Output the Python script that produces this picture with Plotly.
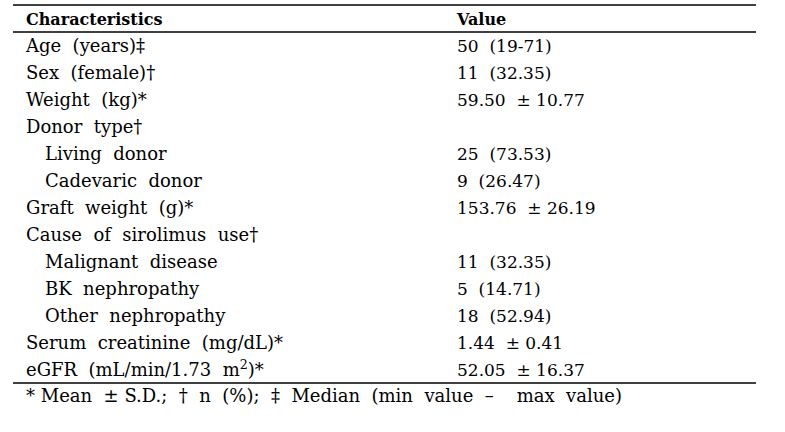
import plotly.graph_objects as go

# table content (wide word spacing as in the source table)
characteristics = [
    "Age  (years)‡",
    "Sex  (female)†",
    "Weight  (kg)*",
    "Donor  type†",
    "Living  donor",
    "Cadevaric  donor",
    "Graft  weight  (g)*",
    "Cause  of  sirolimus  use†",
    "Malignant  disease",
    "BK  nephropathy",
    "Other  nephropathy",
    "Serum  creatinine  (mg/dL)*",
    "eGFR  (mL/min/1.73  m<sup>2</sup>)*",
]
values = [
    "50  (19-71)",
    "11  (32.35)",
    "59.50  ± 10.77",
    "",
    "25  (73.53)",
    "9  (26.47)",
    "153.76  ± 26.19",
    "",
    "11  (32.35)",
    "5  (14.71)",
    "18  (52.94)",
    "1.44  ± 0.41",
    "52.05  ± 16.37",
]
indented = [False, False, False, False, True, True, False, False, True, True, True, False, False]
header = ["Characteristics", "Value"]
footnote = "* Mean  ± S.D.;  †  n  (%);  ‡  Median  (min  value  –    max  value)"

FONT = "DejaVu Serif"
LABEL_SIZE = 18
VALUE_SIZE = 17
HEAD_SIZE = 16
X_LEFT, X_INDENT, X_VALUE = 26, 45, 457
NUDGE = 0.07  # text sits a touch below row centre


def nb(s):
    # keep double spaces from collapsing in svg text
    return s.replace("  ", "\u00a0 ")


rows = [i + NUDGE for i in range(1, len(characteristics) + 1)]

fig = go.Figure()

fig.add_trace(go.Scatter(
    x=[X_INDENT if ind else X_LEFT for ind in indented], y=rows,
    text=[nb(c) for c in characteristics], mode="text", textposition="middle right",
    textfont=dict(family=FONT, size=LABEL_SIZE, color="black"),
    hoverinfo="skip", showlegend=False,
))
fig.add_trace(go.Scatter(
    x=[X_VALUE] * len(values), y=rows,
    text=[nb(v) for v in values], mode="text", textposition="middle right",
    textfont=dict(family=FONT, size=VALUE_SIZE, color="black"),
    hoverinfo="skip", showlegend=False,
))
fig.add_trace(go.Scatter(
    x=[X_LEFT, X_VALUE], y=[NUDGE, NUDGE],
    text=["<b>" + h + "</b>" for h in header], mode="text", textposition="middle right",
    textfont=dict(family=FONT, size=HEAD_SIZE, color="black"),
    hoverinfo="skip", showlegend=False,
))
fig.add_trace(go.Scatter(
    x=[X_LEFT], y=[len(characteristics) + 0.93 + NUDGE],
    text=[nb(footnote)], mode="text", textposition="middle right",
    textfont=dict(family=FONT, size=LABEL_SIZE, color="black"),
    hoverinfo="skip", showlegend=False,
))

# horizontal rules: top, under header, bottom
for yy in [-0.52, 0.48, len(characteristics) + 0.48]:
    fig.add_shape(type="line", x0=13, x1=756, y0=yy, y1=yy,
                  line=dict(color="black", width=1.5))

fig.update_layout(
    width=785, height=432,
    margin=dict(l=0, r=0, t=0, b=0),
    plot_bgcolor="white", paper_bgcolor="white",
    hovermode=False,
    xaxis=dict(range=[0, 785], visible=False, fixedrange=True),
    yaxis=dict(range=[15.296, -0.704], visible=False, fixedrange=True),
)

# drop the default page margin so the figure sits at the window origin
fig.write_html("out.html", config={"displayModeBar": False},
               post_script="document.body.style.margin='0';")
